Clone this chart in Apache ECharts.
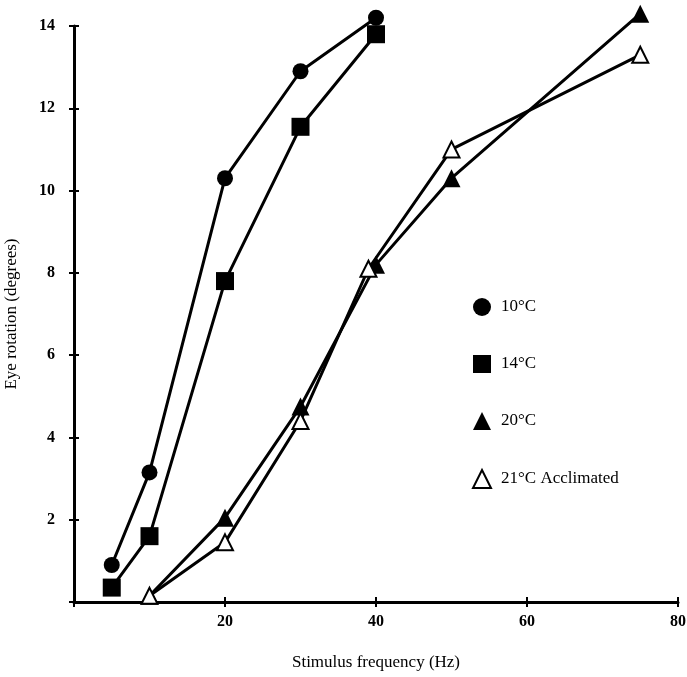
<!DOCTYPE html>
<html>
<head>
<meta charset="utf-8">
<script src="https://cdn.jsdelivr.net/npm/echarts@6/dist/echarts.min.js"></script>
<style>
html,body{margin:0;padding:0;background:#fff;}
#main{width:687px;height:677px;}
</style>
</head>
<body>
<div id="main"></div>
<script>
// values
var names = ['10\u00b0C', '14\u00b0C', '20\u00b0C', '21\u00b0C Acclimated'];
var c10 = [[5, 0.9], [10, 3.15], [20, 10.3], [30, 12.9], [40, 14.2]];
var c14 = [[5, 0.35], [10, 1.6], [20, 7.8], [30, 11.55], [40, 13.8]];
var c20 = [[10, 0.15], [20, 2.05], [30, 4.75], [40, 8.2], [50, 10.3], [75, 14.3]];
var c21 = [[10, 0.15], [20, 1.45], [30, 4.4], [39, 8.1], [50, 11.0], [75, 13.3]];
var xTicks = [20, 40, 60, 80];
var yTicks = [2, 4, 6, 8, 10, 12, 14];

var font = '"Liberation Serif", "DejaVu Serif", serif';
var myChart = echarts.init(document.getElementById('main'));

function mk(name, data, symbol, size, fill){
	return {
		name: name,
		type: 'line',
		data: data,
		symbol: symbol,
		symbolSize: size,
		showSymbol: true,
		clip: false,
		lineStyle: {color: '#000', width: 3},
		itemStyle: {color: fill, borderColor: '#000', borderWidth: fill == '#fff' ? 2 : 0, opacity: 1},
		emphasis: {disabled: true},
		z: fill == '#fff' ? 3 : 2
	};
}

var option = {
	animation: false,
	backgroundColor: '#fff',
	grid: {left: 74, right: 9, top: 26, bottom: 75, outerBoundsMode: 'none', containLabel: false},
	legend: {
		orient: 'vertical',
		left: 467,
		top: 293,
		itemGap: 39,
		itemWidth: 18,
		itemHeight: 18,
		textStyle: {fontFamily: font, fontSize: 17, color: '#000', padding: [0, 0, 0, 5]},
		data: [
			{name: names[0], icon: 'circle'},
			{name: names[1], icon: 'rect'},
			{name: names[2], icon: 'triangle'},
			{name: names[3], icon: 'triangle', itemStyle: {color: '#fff', borderColor: '#000', borderWidth: 2}}
		]
	},
	xAxis: [{
		type: 'value', min: 0, max: 80, interval: 20,
		name: 'Stimulus frequency (Hz)',
		nameLocation: 'middle', nameGap: 52,
		nameTextStyle: {fontFamily: font, fontSize: 17, color: '#000'},
		splitLine: {show: false},
		axisLine: {lineStyle: {color: '#000', width: 3}},
		axisTick: {length: 5, lineStyle: {color: '#000', width: 2}},
		axisLabel: {
			fontFamily: font, fontSize: 16, fontWeight: 'bold', color: '#000', margin: 12,
			formatter: function(v){ return xTicks.indexOf(v) >= 0 ? v : ''; }
		}
	}, {
		type: 'value', min: 0, max: 80, interval: 20, position: 'bottom',
		splitLine: {show: false},
		axisLine: {show: false},
		axisTick: {inside: true, length: 5, lineStyle: {color: '#000', width: 2}},
		axisLabel: {show: false}
	}],
	yAxis: [{
		type: 'value', min: 0, max: 14, interval: 2,
		name: 'Eye rotation (degrees)',
		nameLocation: 'middle', nameGap: 54,
		nameTextStyle: {fontFamily: font, fontSize: 17, color: '#000'},
		splitLine: {show: false},
		axisLine: {lineStyle: {color: '#000', width: 3}},
		axisTick: {length: 5, lineStyle: {color: '#000', width: 2}},
		axisLabel: {
			fontFamily: font, fontSize: 16, fontWeight: 'bold', color: '#000', margin: 19,
			formatter: function(v){ return yTicks.indexOf(v) >= 0 ? v : ''; }
		}
	}, {
		type: 'value', min: 0, max: 14, interval: 2, position: 'left',
		splitLine: {show: false},
		axisLine: {show: false},
		axisTick: {inside: true, length: 5, lineStyle: {color: '#000', width: 2}},
		axisLabel: {show: false}
	}],
	series: [
		mk(names[0], c10, 'circle', 16, '#000'),
		mk(names[1], c14, 'rect', 18, '#000'),
		mk(names[2], c20, 'triangle', 18, '#000'),
		mk(names[3], c21, 'triangle', 16, '#fff')
	]
};
myChart.setOption(option);
</script>
</body>
</html>
